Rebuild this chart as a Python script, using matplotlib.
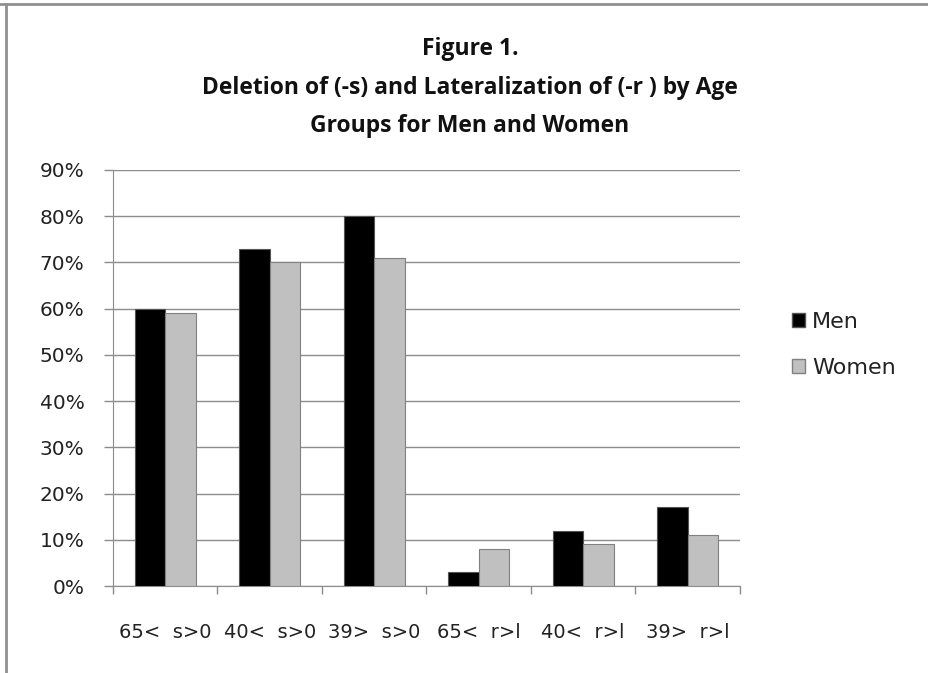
import matplotlib
matplotlib.use('Agg')
import matplotlib.pyplot as plt
import numpy as np
from matplotlib.lines import Line2D
from matplotlib.patches import Patch

categories = ['65<  s>0', '40<  s>0', '39>  s>0', '65<  r>l', '40<  r>l', '39>  r>l']
men = [60, 73, 80, 3, 12, 17]
women = [59, 70, 71, 8, 9, 11]
y_ticks = [0, 10, 20, 30, 40, 50, 60, 70, 80, 90]

title_lines = ['Figure 1.',
               'Deletion of (-s) and Lateralization of (-r ) by Age',
               'Groups for Men and Women']

fig = plt.figure(figsize=(9.29, 6.73), dpi=100)
ax = fig.add_axes([113 / 929, 1 - 586 / 673, 627 / 929, 416 / 673])

x = np.arange(len(categories))
w = 0.29
ax.bar(x - w / 2, men, w, color='black', edgecolor='#555555', linewidth=0.8, zorder=3, label='Men')
ax.bar(x + w / 2, women, w, color='#c0c0c0', edgecolor='#808080', linewidth=0.8, zorder=3, label='Women')

ax.set_xlim(-0.5, len(categories) - 0.5)
ax.set_ylim(0, 90)
ax.set_yticks(y_ticks)
ax.set_yticklabels([f'{v}%' for v in y_ticks])
ax.set_xticks(x)
ax.set_xticklabels(categories)
ax.set_xticks(np.arange(-0.5, len(categories), 1.0), minor=True)

grid_col = '#8c8c8c'
ax.yaxis.grid(True, color=grid_col, linewidth=1.0, zorder=0)
for s in ['top', 'right']:
    ax.spines[s].set_visible(False)
ax.spines['left'].set_color(grid_col)
ax.spines['bottom'].set_color(grid_col)
ax.tick_params(axis='x', which='major', length=0, pad=27, labelsize=14, colors='#222222')
ax.tick_params(axis='x', which='minor', length=6, color=grid_col, width=1.0)
ax.tick_params(axis='y', length=6.5, color=grid_col, width=1.0, pad=14, labelsize=14.5, labelcolor='#222222')

handles = [Patch(facecolor='black', edgecolor='#555555', label='Men'),
           Patch(facecolor='#c0c0c0', edgecolor='#808080', label='Women')]
fig.legend(handles=handles, loc='upper left', bbox_to_anchor=(772 / 929, 1 - 292 / 673),
           frameon=False, fontsize=16, handlelength=0.6, handleheight=0.6,
           handletextpad=0.3, labelspacing=1.15, labelcolor='#222222')

ys = [49, 88, 126]
for t, yy in zip(title_lines, ys):
    fig.text(470 / 929, 1 - yy / 673, t, ha='center', va='center',
             fontsize=16.5, fontweight='bold', family='Open Sans', color='#111111')

# outer frame (top and left edges only visible)
fig.add_artist(Line2D([0, 1], [1 - 4 / 673, 1 - 4 / 673], transform=fig.transFigure,
                      color='#909090', linewidth=2))
fig.add_artist(Line2D([6 / 929, 6 / 929], [0, 1 - 4 / 673], transform=fig.transFigure,
                      color='#909090', linewidth=2))

fig.savefig('out.png', dpi=100)
